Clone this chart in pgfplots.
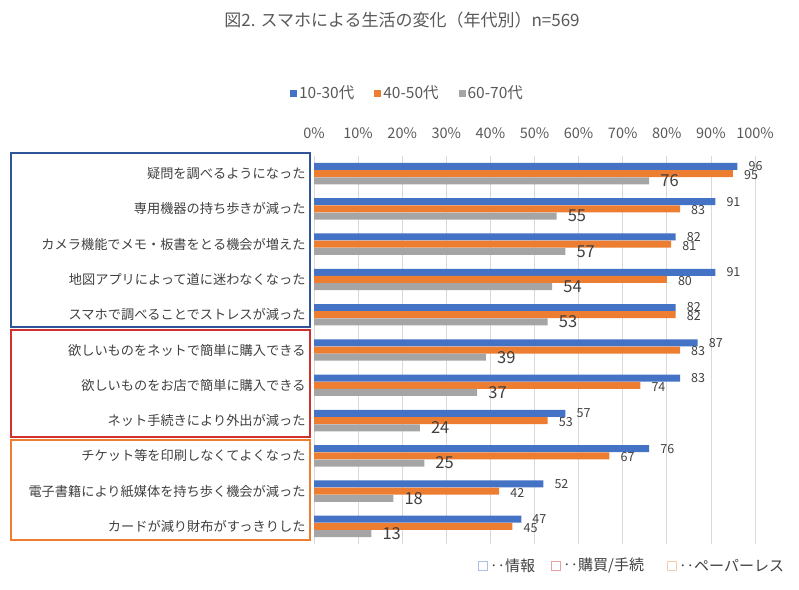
\documentclass[border=0pt]{standalone}
\usepackage{pgfplots}
\pgfplotsset{compat=1.18}
\usepackage{fontspec}
\setmainfont{Noto Sans CJK JP}
\definecolor{cblue}{HTML}{4472C4}
\definecolor{corange}{HTML}{ED7D31}
\definecolor{cgray}{HTML}{A5A5A5}
\definecolor{ctext}{HTML}{595959}
\definecolor{clabel}{HTML}{404040}
\definecolor{boxblue}{HTML}{2F5597}
\definecolor{boxred}{HTML}{D0312D}
\definecolor{boxorange}{HTML}{ED7D31}
\pgfplotsset{lg/.style={legend image code/.code={\fill[##1] (0pt,-3.5pt) rectangle (7pt,3.5pt);}}}
\begin{document}
\begin{tikzpicture}
\path (0pt,0pt) rectangle (799pt,-589pt);
\node[font=\fontsize{17}{19}\selectfont, text=ctext] at (402pt,-20pt) {図2. スマホによる生活の変化（年代別）n=569};
\begin{axis}[
  at={(314pt,-544pt)}, anchor=south west,
  scale only axis, width=441pt, height=388pt,
  xbar, bar width=7pt,
  xmin=0, xmax=100, ymin=-0.5, ymax=10.5,
  xtick={0,10,...,100},
  xticklabel={\pgfmathprintnumber{\tick}\%},
  xticklabel pos=upper,
  xticklabel style={font=\fontsize{14.5}{16}\selectfont, text=ctext, yshift=14pt},
  /pgf/number format/assume math mode=true,
  ytick={0,...,10},
  yticklabels={カードが減り財布がすっきりした,電子書籍により紙媒体を持ち歩く機会が減った,チケット等を印刷しなくてよくなった,ネット手続きにより外出が減った,欲しいものをお店で簡単に購入できる,欲しいものをネットで簡単に購入できる,スマホで調べることでストレスが減った,地図アプリによって道に迷わなくなった,カメラ機能でメモ・板書をとる機会が増えた,専用機器の持ち歩きが減った,疑問を調べるようになった},
  yticklabel style={font=\fontsize{13.2}{15}\selectfont, text=clabel, xshift=-5pt},
  major tick length=0pt,
  xmajorgrids, grid style={draw=black!15, line width=0.8pt},
  axis line style={draw=none},
  legend columns=3,
  legend style={at={(0.212,1.162)}, anchor=center, draw=none, fill=none,
    font=\fontsize{15.5}{17}\selectfont, text=ctext,
    /tikz/every even column/.append style={column sep=18pt}},
  nodes near coords, point meta=x,
  nodes near coords style={anchor=west, inner sep=0pt, text=clabel, /pgf/number format/precision=0},
]
\addplot+[lg, fill=cblue, draw=none, bar shift=7.2pt,
  nodes near coords style={xshift=11pt, font=\fontsize{12.5}{14}\selectfont}]
  coordinates {(47,0) (52,1) (76,2) (57,3) (83,4) (87,5) (82,6) (91,7) (82,8) (91,9) (96,10)};
\addplot+[lg, fill=corange, draw=none, bar shift=0pt,
  nodes near coords style={xshift=11pt, yshift=-1.5pt, font=\fontsize{12.5}{14}\selectfont}]
  coordinates {(45,0) (42,1) (67,2) (53,3) (74,4) (83,5) (82,6) (80,7) (81,8) (83,9) (95,10)};
\addplot+[lg, fill=cgray, draw=none, bar shift=-7.2pt,
  nodes near coords style={xshift=11pt, font=\fontsize{16.5}{18}\selectfont}]
  coordinates {(13,0) (18,1) (25,2) (24,3) (37,4) (39,5) (53,6) (54,7) (57,8) (55,9) (76,10)};
\legend{10-30代,40-50代,60-70代}
\end{axis}
\draw[boxblue, line width=1.5pt] (11pt,-153pt) rectangle (310pt,-327pt);
\draw[boxred, line width=1.5pt] (11pt,-330pt) rectangle (310pt,-437pt);
\draw[boxorange, line width=1.5pt] (11pt,-440pt) rectangle (310pt,-540pt);
\begin{scope}[font=\fontsize{15}{17}\selectfont]
\draw[draw=cblue!45, line width=0.8pt] (478pt,-561pt) rectangle (487pt,-570pt);
\node[anchor=west, text=clabel, inner sep=0pt] at (490pt,-565.5pt) {‥情報};
\draw[draw=boxred!45, line width=0.8pt] (551pt,-561pt) rectangle (560pt,-570pt);
\node[anchor=west, text=clabel, inner sep=0pt] at (563pt,-565.5pt) {‥購買/手続};
\draw[draw=corange!40, line width=0.8pt] (667pt,-561pt) rectangle (676pt,-570pt);
\node[anchor=west, text=clabel, inner sep=0pt] at (679pt,-565.5pt) {‥ペーパーレス};
\end{scope}
\end{tikzpicture}
\end{document}
